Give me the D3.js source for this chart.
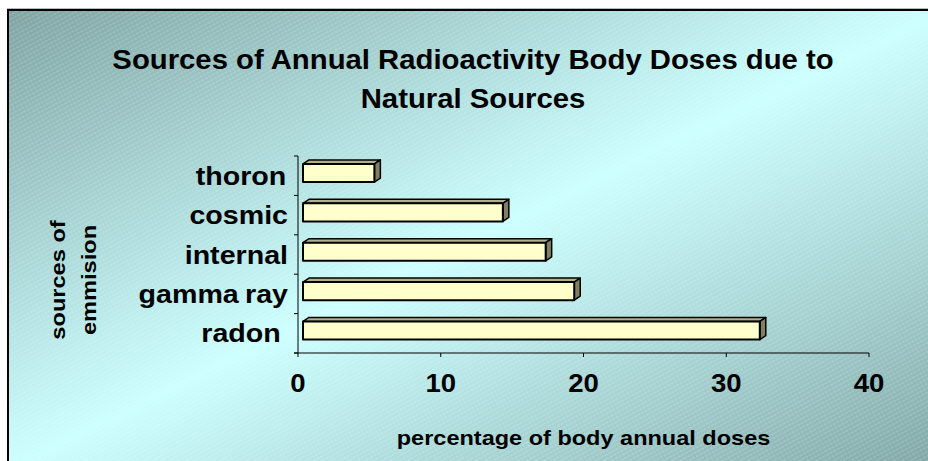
<!DOCTYPE html>
<html>
<head>
<meta charset="utf-8">
<script src="https://cdn.jsdelivr.net/npm/d3@7"></script>
<style>
  html, body { margin: 0; padding: 0; background: #fff; overflow: hidden; }
  svg { display: block; font-family: "Liberation Sans", Arial, sans-serif; font-weight: bold; }
</style>
</head>
<body>
<div id="chart"></div>
<script>
// data
const categories = ["thoron", "cosmic", "internal", "gamma ray", "radon"];
const values = [5, 14, 17, 19, 32];
const xTicks = [0, 10, 20, 30, 40];
const titleLines = ["Sources of Annual Radioactivity Body Doses due to", "Natural Sources"];
const xTitle = "percentage of body annual doses";
const yTitleLines = ["sources of", "emmision"];

const width = 928, height = 461;
const margin = ({top: 156, right: 59, bottom: 108, left: 298});
const sx = 1.1; // text in the picture is a bit wider than Arial

const svg = d3.select("#chart")
  .append("svg")
    .attr("width", width)
    .attr("height", height);

const defs = svg.append("defs");
const grad = defs.append("linearGradient")
    .attr("id", "bg")
    .attr("x1", 0).attr("y1", 0).attr("x2", 1).attr("y2", 1);
grad.append("stop").attr("offset", 0).attr("stop-color", "#7ea3a2");
grad.append("stop").attr("offset", 0.5).attr("stop-color", "#ccffff");
grad.append("stop").attr("offset", 1).attr("stop-color", "#7fa5a4");

const hatch = defs.append("pattern")
    .attr("id", "hatch")
    .attr("patternUnits", "userSpaceOnUse")
    .attr("width", 8).attr("height", 4)
    .attr("patternTransform", "rotate(-28)");
hatch.append("line")
    .attr("x1", 0).attr("y1", 2).attr("x2", 8).attr("y2", 2)
    .attr("stroke", "#ffffff")
    .attr("stroke-opacity", 0.35)
    .attr("stroke-width", 0.8)
    .attr("stroke-dasharray", "3,1");

// chart area frame (runs past the window on right and bottom)
svg.append("rect")
    .attr("x", 8).attr("y", 10)
    .attr("width", 935).attr("height", 459)
    .attr("fill", "url(#bg)")
    .attr("stroke", "#000")
    .attr("stroke-width", 2);
svg.append("rect")
    .attr("x", 9).attr("y", 11)
    .attr("width", 933).attr("height", 457)
    .attr("fill", "url(#hatch)");
svg.append("line")
    .attr("x1", 7).attr("x2", width).attr("y1", 8.5).attr("y2", 8.5)
    .attr("stroke", "#bbb");

const x = d3.scaleLinear()
    .domain([0, 40])
    .range([margin.left, width - margin.right]);

const y = d3.scaleBand()
    .domain(categories)
    .range([margin.top, height - margin.bottom]);

// axes
svg.append("line")
    .attr("x1", x(0)).attr("x2", x(0))
    .attr("y1", y.range()[0]).attr("y2", y.range()[1])
    .attr("stroke", "#000");
svg.append("g")
  .selectAll("line")
  .data(categories.concat([null]))
  .join("line")
    .attr("x1", x(0) - 4).attr("x2", x(0))
    .attr("y1", (d, i) => i < categories.length ? y(d) : y.range()[1])
    .attr("y2", (d, i) => i < categories.length ? y(d) : y.range()[1])
    .attr("stroke", "#000");

svg.append("line")
    .attr("x1", x(0) - 4).attr("x2", x(40))
    .attr("y1", y.range()[1]).attr("y2", y.range()[1])
    .attr("stroke", "#000");
svg.append("g")
  .selectAll("line")
  .data(xTicks)
  .join("line")
    .attr("x1", d => x(d)).attr("x2", d => x(d))
    .attr("y1", y.range()[1]).attr("y2", y.range()[1] + 4)
    .attr("stroke", "#000");

svg.append("g")
    .attr("font-size", 26)
  .selectAll("text")
  .data(xTicks)
  .join("text")
    .attr("text-anchor", "middle")
    .attr("transform", d => `translate(${x(d)},${y.range()[1] + 39}) scale(1.06,1)`)
    .text(d => d);

// category labels: centred in the label box, pushed left when too wide
const labelRight = x(0) - 10, labelCenter = x(0) - 57;
svg.append("g")
    .attr("font-size", 26)
    .attr("word-spacing", -1.5)
  .selectAll("text")
  .data(categories)
  .join("text")
    .attr("text-anchor", "middle")
    .text(d => d)
    .attr("transform", function(d) {
      const w = this.getComputedTextLength() * sx;
      const cx = Math.min(labelCenter, labelRight - w / 2);
      return `translate(${cx},${y(d) + y.bandwidth() / 2 + 9}) scale(${sx},1)`;
    });

// 3D bars
const dx = 6, dy = 4;
const barTop = d => y(d) + y.bandwidth() * 0.2;
const barH = y.bandwidth() * 0.46;
const bars = svg.append("g")
  .selectAll("g")
  .data(categories.map((c, i) => ({c, v: values[i]})))
  .join("g")
    .attr("stroke", "#000")
    .attr("stroke-linejoin", "round");

bars.append("path")
    .attr("fill", "#b0b08a")
    .attr("stroke-width", 1.5)
    .attr("d", d => {
      const x0 = x(0) + 5, x1 = x(d.v) + 5, t = barTop(d.c);
      return `M${x0},${t}L${x0 + dx},${t - dy}L${x1 + dx},${t - dy}L${x1},${t}Z`;
    });
bars.append("path")
    .attr("fill", "#7f7f62")
    .attr("stroke-width", 1.5)
    .attr("d", d => {
      const x1 = x(d.v) + 5, t = barTop(d.c);
      return `M${x1},${t}L${x1 + dx},${t - dy}L${x1 + dx},${t + barH - dy}L${x1},${t + barH}Z`;
    });
bars.append("rect")
    .attr("fill", "#ffffcc")
    .attr("stroke-width", 2)
    .attr("x", x(0) + 5)
    .attr("y", d => barTop(d.c))
    .attr("width", d => x(d.v) - x(0))
    .attr("height", barH);

// titles
svg.append("g")
    .attr("font-size", 27)
  .selectAll("text")
  .data(titleLines)
  .join("text")
    .attr("text-anchor", "middle")
    .attr("transform", (d, i) => `translate(473,${69 + i * 39}) scale(1.085,1)`)
    .text(d => d);

svg.append("text")
    .attr("font-size", 21)
    .attr("text-anchor", "middle")
    .attr("transform", `translate(${(x(0) + x(40)) / 2},${height - 16}) scale(1.12,1)`)
    .text(xTitle);

svg.append("g")
    .attr("font-size", 20)
  .selectAll("text")
  .data(yTitleLines)
  .join("text")
    .attr("text-anchor", "middle")
    .attr("transform", (d, i) => `translate(${65 + i * 31},280) rotate(-90) scale(1.18,1)`)
    .text(d => d);
</script>
</body>
</html>
